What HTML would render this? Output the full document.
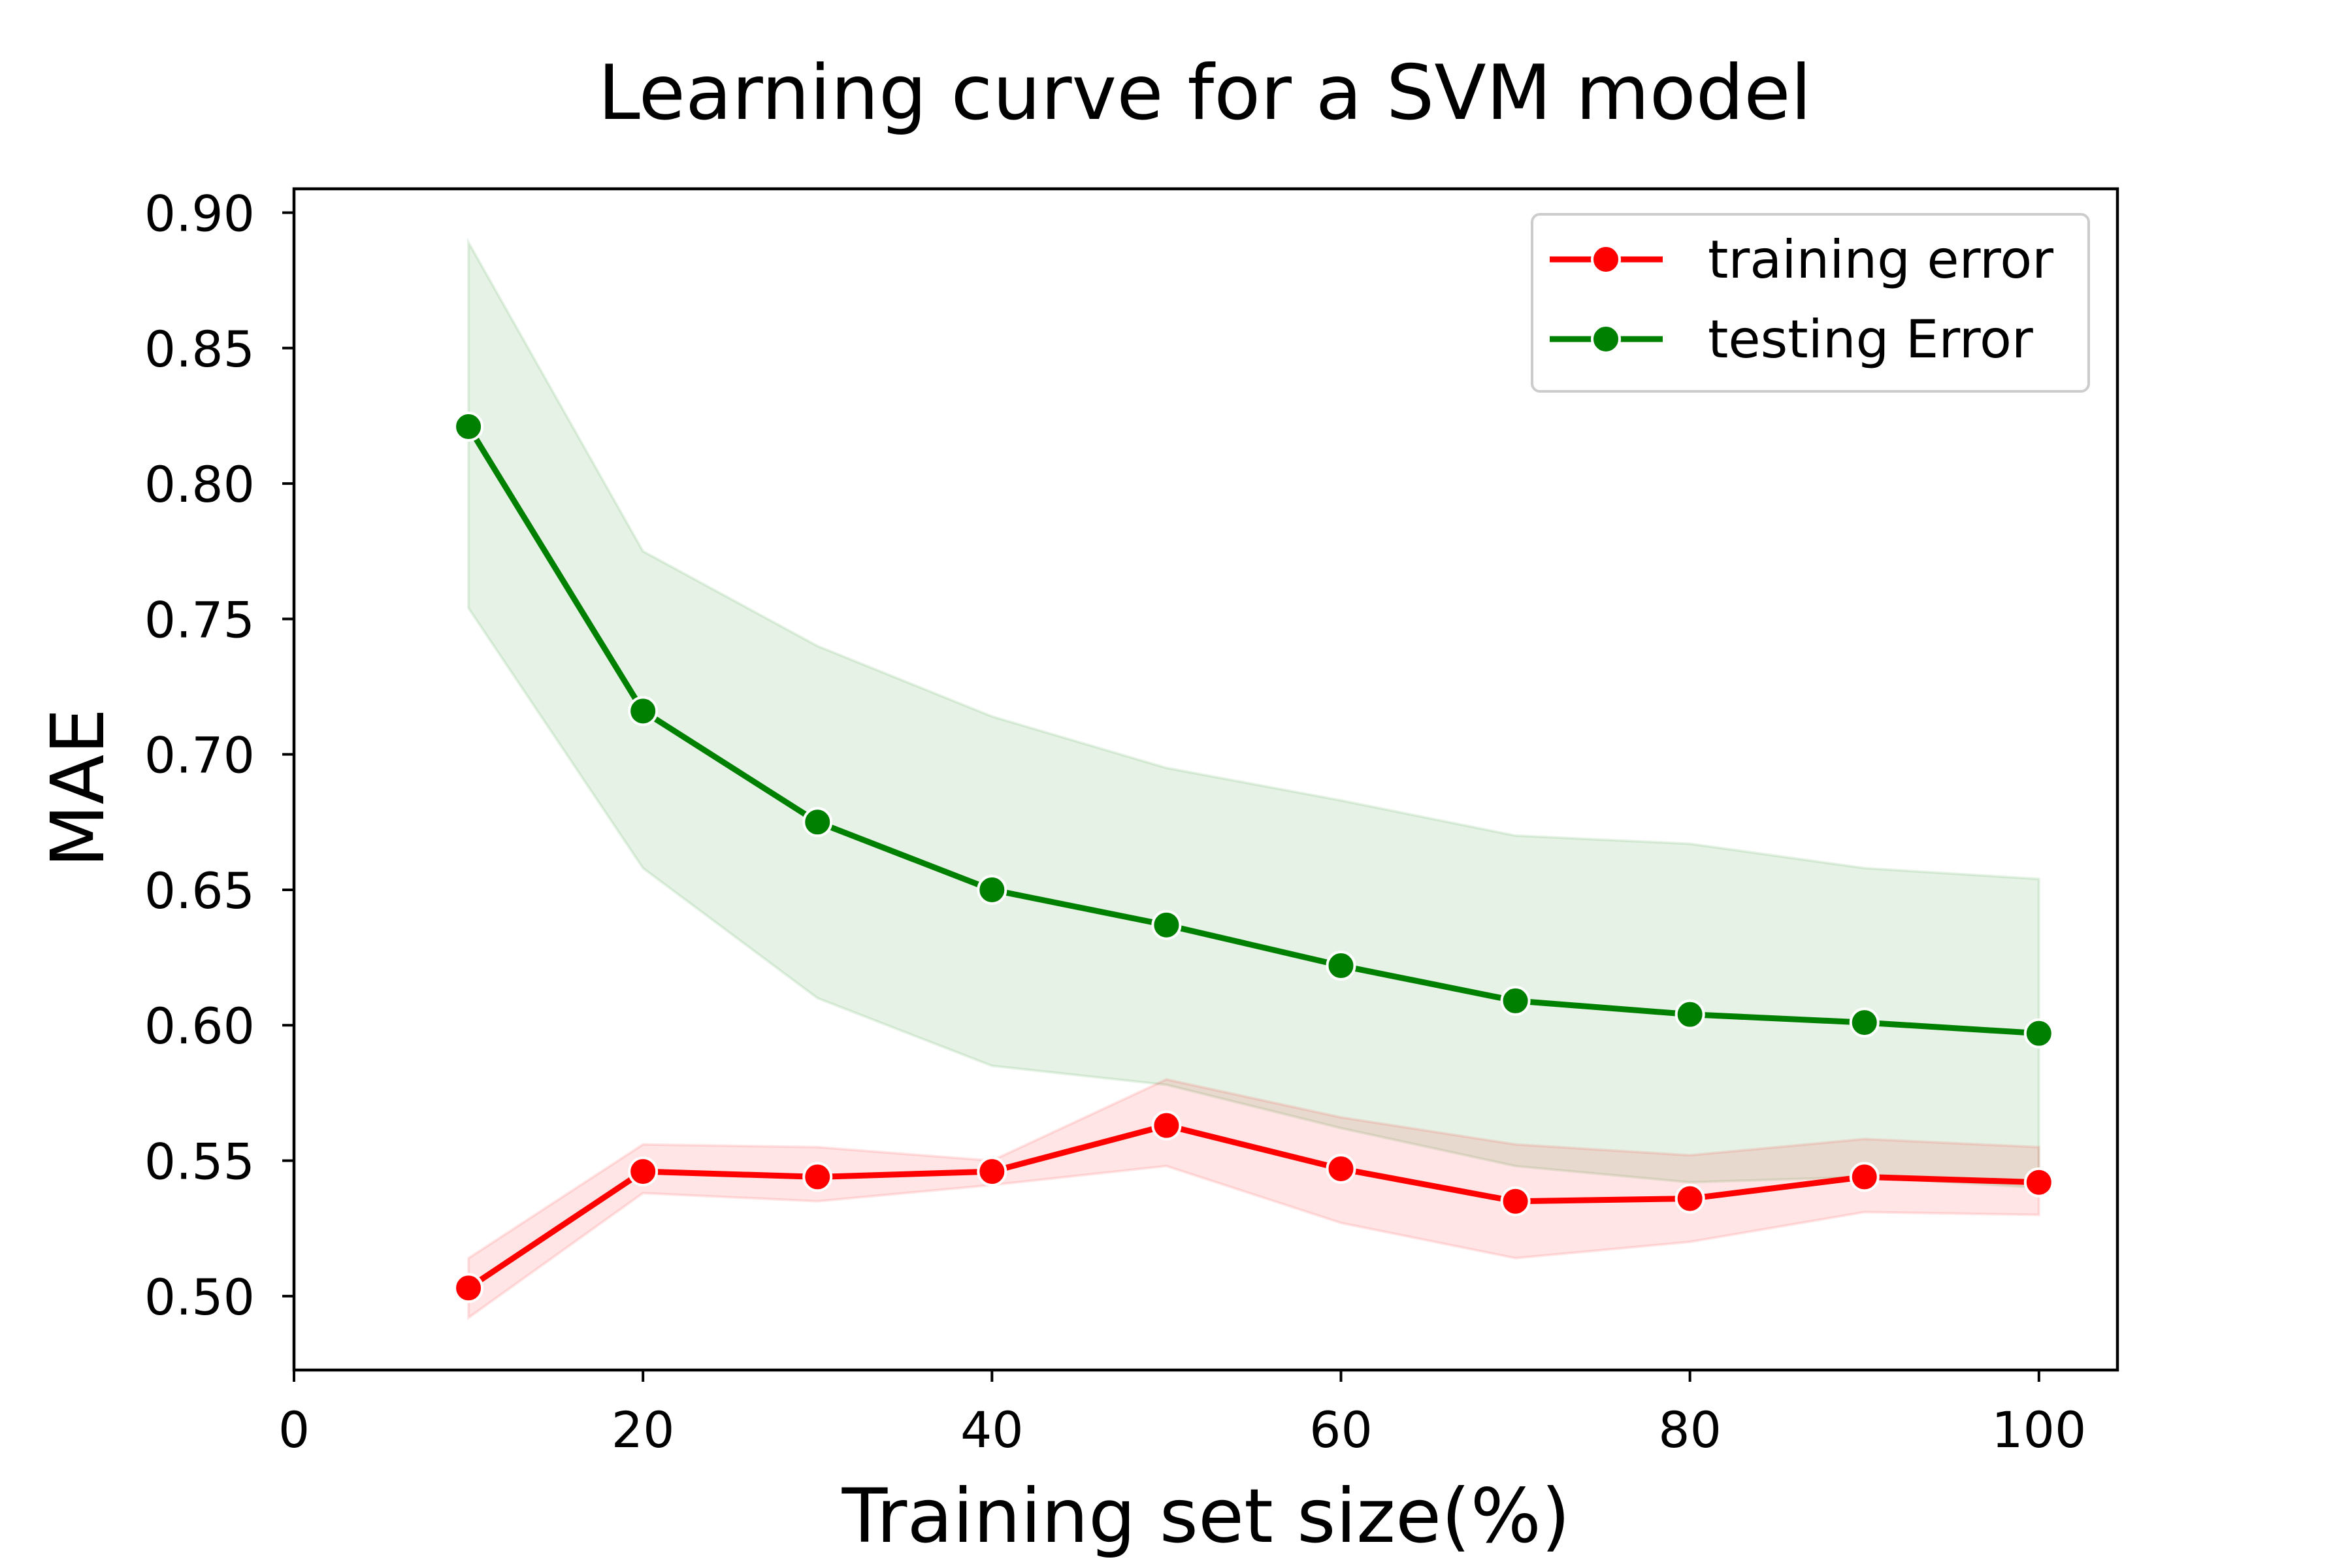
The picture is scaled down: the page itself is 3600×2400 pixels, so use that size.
<!DOCTYPE html>
<html><head><meta charset="utf-8"><style>
html,body{margin:0;padding:0;background:#fff;}
svg{display:block;font-family:"DejaVu Sans","Liberation Sans",sans-serif;}
</style></head><body>
<svg id="chart" width="3600" height="2400" viewBox="0 0 3600 2400">
<rect width="3600" height="2400" fill="#fff"/>
<text x="1844" y="182" font-size="116" text-anchor="middle" fill="#000">Learning curve for a SVM model</text>
<g id="plot"></g>
<text x="1846" y="2360" font-size="114" text-anchor="middle" fill="#000">Training set size(%)</text>
<text transform="translate(158,1206) rotate(-90)" font-size="112" text-anchor="middle" fill="#000">MAE</text>
</svg>
<script>
const xs = [10,20,30,40,50,60,70,80,90,100];
const testMean = [0.821,0.716,0.675,0.650,0.637,0.622,0.609,0.604,0.601,0.597];
const testUpper = [0.889,0.775,0.740,0.714,0.695,0.683,0.670,0.667,0.658,0.654];
const testLower = [0.754,0.658,0.610,0.585,0.578,0.562,0.548,0.542,0.544,0.540];
const trainMean = [0.503,0.546,0.544,0.546,0.563,0.547,0.535,0.536,0.544,0.542];
const trainUpper = [0.514,0.556,0.555,0.550,0.580,0.566,0.556,0.552,0.558,0.555];
const trainLower = [0.492,0.538,0.535,0.541,0.548,0.527,0.514,0.520,0.531,0.530];
const xTicks = [0,20,40,60,80,100];
const yTicks = [0.50,0.55,0.60,0.65,0.70,0.75,0.80,0.85,0.90];

const L=450,R=3241,T=289,B=2097;
const X0=0,X1=104.5,Y0=0.4727,Y1=0.9088;
function sx(v){return L+(v-X0)/(X1-X0)*(R-L);}
function sy(v){return B-(v-Y0)/(Y1-Y0)*(B-T);}
const NS="http://www.w3.org/2000/svg";
const g=document.getElementById('plot');
function mk(tag,attrs){const e=document.createElementNS(NS,tag);for(const k in attrs)e.setAttribute(k,attrs[k]);g.appendChild(e);return e;}

function band(up,lo,color,name){
  let d='M'+xs.map((x,i)=>sx(x)+','+sy(up[i])).join('L');
  d+='L'+xs.slice().reverse().map((x,j)=>{const i=xs.length-1-j;return sx(x)+','+sy(lo[i]);}).join('L')+'Z';
  const p=mk('path',{d:d,fill:color,'fill-opacity':0.1,stroke:color,'stroke-opacity':0.1,'stroke-width':4});
  
  
}
function series(vals,color,name){
  const p=mk('polyline',{points:xs.map((x,i)=>sx(x)+','+sy(vals[i])).join(' '),fill:'none',stroke:color,'stroke-width':9,'stroke-linejoin':'round'});
  
  
  xs.forEach((x,i)=>{
    const c=mk('circle',{cx:sx(x),cy:sy(vals[i]),r:21,fill:color,stroke:'#fff','stroke-width':4});
    
    
  });
}
band(testUpper,testLower,'green','testing-error-band');
band(trainUpper,trainLower,'red','training-error-band');
series(trainMean,'red','training-error');
series(testMean,'green','testing-error');

const frame=mk('rect',{x:L,y:T,width:R-L,height:B-T,fill:'none',stroke:'#000','stroke-width':4.5});



xTicks.forEach(v=>{
  const t=mk('line',{x1:sx(v),x2:sx(v),y1:B,y2:B+18,stroke:'#000','stroke-width':4});
  
  
  const l=mk('text',{x:sx(v),y:B+118,'font-size':76,'text-anchor':'middle',fill:'#000'});
  l.textContent=String(v);
  
  
});
yTicks.forEach(v=>{
  const t=mk('line',{x1:L-18,x2:L,y1:sy(v),y2:sy(v),stroke:'#000','stroke-width':4});
  
  
  const l=mk('text',{x:L-60,y:sy(v)+28,'font-size':76,'text-anchor':'end',fill:'#000'});
  l.textContent=v.toFixed(2);
  
  
});

// legend
const lb=mk('rect',{x:2345,y:328,width:852,height:271,rx:12,fill:'#fff','fill-opacity':0.8,stroke:'#ccc','stroke-width':4});


[['training error','red',397],['testing Error','green',519]].forEach(([txt,col,y])=>{
  const ln=mk('line',{x1:2372,x2:2545,y1:y,y2:y,stroke:col,'stroke-width':9});
  
  
  const c=mk('circle',{cx:2458,cy:y,r:21,fill:col,stroke:'#fff','stroke-width':4});
  
  
  const t=mk('text',{x:2614,y:y+28,'font-size':80,fill:'#000'});
  t.textContent=txt;
  
  
});
</script>
</body></html>
